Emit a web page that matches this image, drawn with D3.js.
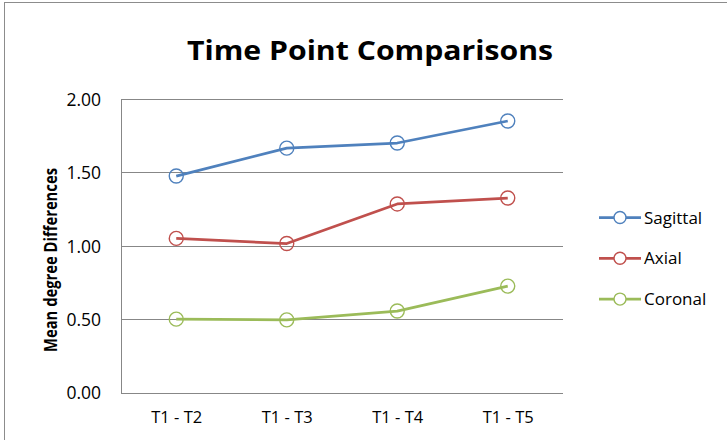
<!DOCTYPE html>
<html>
<head>
<meta charset="utf-8">
<script src="https://cdn.jsdelivr.net/npm/d3@7"></script>
<style>
  html, body { margin: 0; padding: 0; background: #fff; }
  svg { display: block; font-family: "Open Sans", sans-serif; }
</style>
</head>
<body>
<svg id="chart" width="727" height="440"></svg>
<script>
// Time point comparison data
const categories = ["T1 - T2", "T1 - T3", "T1 - T4", "T1 - T5"];
const seriesNames = ["Sagittal", "Axial", "Coronal"];
const sagittal = [1.475, 1.665, 1.70, 1.85];
const axial = [1.05, 1.015, 1.285, 1.325];
const coronal = [0.50, 0.495, 0.555, 0.725];
const yTicks = [0, 0.5, 1.0, 1.5, 2.0];
const colors = ["#4F81BD", "#C0504D", "#9BBB59"];

const series = [
  { name: seriesNames[0], values: sagittal, color: colors[0] },
  { name: seriesNames[1], values: axial, color: colors[1] },
  { name: seriesNames[2], values: coronal, color: colors[2] }
];

const FONT = "'Open Sans', sans-serif";
const svg = d3.select("#chart");
const plot = { left: 121, right: 563, top: 99, bottom: 392.5 };

// chart frame
svg.append("rect")
  .attr("x", 4.5).attr("y", 2.5)
  .attr("width", 760).attr("height", 480)
  .attr("fill", "#fff").attr("stroke", "#8c8c8c").attr("stroke-width", 1);

const x = d3.scalePoint().domain(categories).range([plot.left, plot.right]).padding(0.5);
const y = d3.scaleLinear().domain([0, 2]).range([plot.bottom, plot.top]);

// horizontal gridlines
svg.append("g")
  .selectAll("line")
  .data(yTicks)
  .join("line")
  .attr("x1", plot.left).attr("x2", plot.right)
  .attr("y1", d => Math.round(y(d)) + 0.5).attr("y2", d => Math.round(y(d)) + 0.5)
  .attr("stroke", "#878787").attr("stroke-width", 1);

// y axis line
svg.append("line")
  .attr("x1", plot.left + 0.5).attr("x2", plot.left + 0.5)
  .attr("y1", plot.top).attr("y2", Math.round(plot.bottom) + 0.5)
  .attr("stroke", "#878787").attr("stroke-width", 1);

// y tick labels
const yAxis = d3.axisLeft(y).tickValues(yTicks).tickFormat(d3.format(".2f")).tickSize(0).tickPadding(20);
const gy = svg.append("g").attr("transform", `translate(${plot.left},0)`).call(yAxis);
gy.select(".domain").remove();
gy.selectAll("text").attr("font-size", 17.5).attr("fill", "#000")
  .attr("font-family", FONT).attr("dy", "0.36em");

// x tick labels
const xAxis = d3.axisBottom(x).tickSize(0).tickPadding(19);
const gx = svg.append("g").attr("transform", `translate(0,${plot.bottom})`).call(xAxis);
gx.select(".domain").remove();
gx.selectAll("text").attr("font-size", 16.5).attr("fill", "#000")
  .attr("font-family", FONT);

// lines and markers
const line = d3.line().x((d, i) => x(categories[i])).y(d => y(d));
series.forEach(s => {
  svg.append("path")
    .datum(s.values)
    .attr("d", line)
    .attr("fill", "none")
    .attr("stroke", s.color)
    .attr("stroke-width", 2.75)
    .attr("stroke-linejoin", "round");
  svg.append("g")
    .selectAll("circle")
    .data(s.values)
    .join("circle")
    .attr("cx", (d, i) => x(categories[i]))
    .attr("cy", d => y(d))
    .attr("r", 7)
    .attr("fill", "none")
    .attr("stroke", s.color)
    .attr("stroke-width", 1.4);
});

// title
svg.append("text")
  .attr("x", 370).attr("y", 60)
  .attr("text-anchor", "middle")
  .attr("font-size", 26).attr("font-weight", "bold")
  .attr("textLength", 366).attr("lengthAdjust", "spacingAndGlyphs")
  .text("Time Point Comparisons");

// y axis title
svg.append("text")
  .attr("transform", "translate(57,260) rotate(-90)")
  .attr("text-anchor", "middle")
  .attr("font-size", 17).attr("font-weight", "bold")
  .attr("textLength", 184).attr("lengthAdjust", "spacingAndGlyphs")
  .text("Mean degree Differences");

// legend
const legend = svg.append("g").attr("transform", "translate(599,217.5)");
series.forEach((s, i) => {
  const g = legend.append("g").attr("transform", `translate(0,${i * 40.8})`);
  g.append("line").attr("x1", 0).attr("x2", 42).attr("y1", 0).attr("y2", 0)
    .attr("stroke", s.color).attr("stroke-width", 2.75);
  g.append("circle").attr("cx", 21).attr("cy", 0).attr("r", 6)
    .attr("fill", "#fff").attr("stroke", s.color).attr("stroke-width", 1.4);
  g.append("text").attr("x", 45).attr("y", 0).attr("dy", "0.36em")
    .attr("font-size", 17).text(s.name);
});
</script>
</body>
</html>
